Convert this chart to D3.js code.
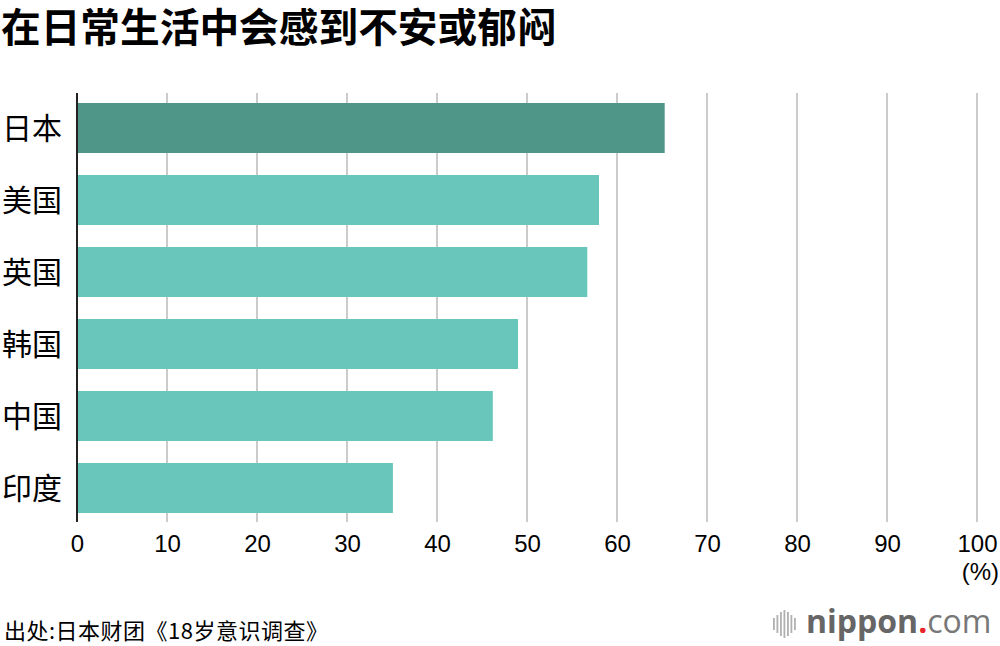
<!DOCTYPE html>
<html><head><meta charset="utf-8">
<script src="https://cdn.jsdelivr.net/npm/d3@7"></script>
<style>
body{margin:0;background:#fff;}
svg{display:block;font-family:"Noto Sans CJK SC","Noto Sans",sans-serif;}
</style></head>
<body>
<svg id="c" width="1000" height="646"></svg>
<script>
const categories = ["日本","美国","英国","韩国","中国","印度"];
const values = [65.3, 58.0, 56.7, 49.0, 46.2, 35.1];
const tickValues = [0,10,20,30,40,50,60,70,80,90,100];
const title = "在日常生活中会感到不安或郁闷";
const source = "出处:日本财团《18岁意识调查》";

const svg = d3.select("#c");
const x = d3.scaleLinear().domain([0,100]).range([77,977]);
const y = d3.scaleBand().domain(categories).range([103, 513]).paddingInner(22/72).paddingOuter(0);

svg.append("text").attr("x",1).attr("y",42).attr("font-size",39.7).attr("font-weight",700)
  .attr("fill","#000").text(title);

// gridlines
svg.append("g").selectAll("line").data(tickValues.slice(1)).join("line")
  .attr("x1",d=>x(d)).attr("x2",d=>x(d)).attr("y1",93).attr("y2",522)
  .attr("stroke","#cccccc").attr("stroke-width",2);

// bars
svg.append("g").selectAll("rect").data(categories).join("rect")
  .attr("x",x(0)).attr("y",d=>y(d)).attr("height",y.bandwidth())
  .attr("width",(d,i)=>x(values[i])-x(0))
  .attr("fill",(d,i)=>i===0?"#4f9689":"#69c6ba");

// y axis line
svg.append("line").attr("x1",x(0)).attr("x2",x(0)).attr("y1",93).attr("y2",522)
  .attr("stroke","#222").attr("stroke-width",2);

// category labels
svg.append("g").selectAll("text").data(categories).join("text")
  .attr("x",2).attr("y",d=>y(d)+y.bandwidth()/2).attr("dy","0.36em")
  .attr("font-size",30).attr("fill","#000").text(d=>d);

// x tick labels
const xAxis = d3.axisBottom(x).tickValues(tickValues).tickSize(0).tickPadding(0);
const ga = svg.append("g").attr("transform","translate(0,543)").call(xAxis);
ga.select(".domain").remove();
ga.selectAll("text").attr("font-size",24).attr("fill","#000")
  .attr("font-family","'Liberation Sans',Arial,sans-serif").attr("dy","0.36em").attr("y",0);

svg.append("text").attr("x",999).attr("y",580).attr("text-anchor","end")
  .attr("font-size",24).attr("font-family","'Liberation Sans',Arial,sans-serif").attr("fill","#000").text("(%)");

// source
svg.append("text").attr("x",4).attr("y",639).attr("font-size",22).attr("fill","#000")
  .attr("textLength",324).attr("lengthAdjust","spacing").text(source);

// logo
const barsH = [12,18,24,28,24,18,12];
barsH.forEach((h,i)=>{
  svg.append("rect").attr("x",773+i*3.5).attr("y",624-h/2).attr("width",1.8).attr("height",h).attr("fill","#b0b0b0");
});
const lf = "'Open Sans','Noto Sans',sans-serif";
const logo = svg.append("text").attr("x",806).attr("y",633).attr("font-size",32).attr("font-family",lf);
logo.append("tspan").attr("font-weight",700).attr("fill","#666").text("nippon");
logo.append("tspan").attr("font-weight",700).attr("fill","#e8232b").text(".");
logo.append("tspan").attr("font-weight",400).attr("fill","#777").text("com");
</script>
</body></html>
